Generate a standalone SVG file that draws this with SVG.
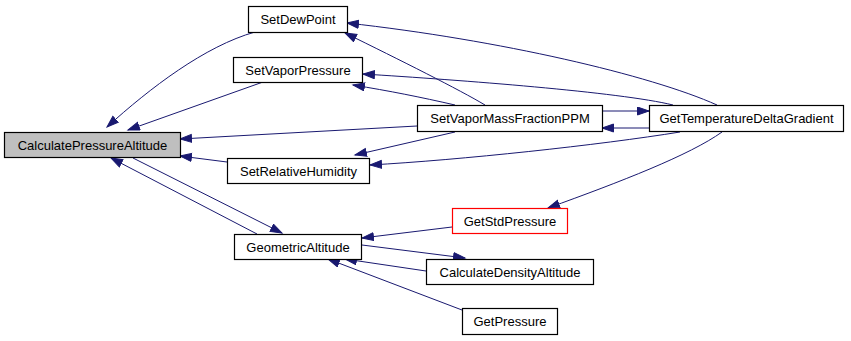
<svg xmlns="http://www.w3.org/2000/svg" width="851" height="341" viewBox="0 0 851 341">
  <style>
    .node rect { fill: #ffffff; stroke: #000000; stroke-width: 1.2; }
    .node.root rect { fill: #bfbfbf; }
    .node.red rect { stroke: #ff0000; }
    .node text { font-family: "Liberation Sans", Arial, sans-serif; font-size: 13px; fill: #000000; text-anchor: middle; }
    .edges path { fill: none; stroke: #191970; stroke-width: 1; marker-end: url(#arrow); }
  </style>
  <defs>
    <marker id="arrow" markerUnits="userSpaceOnUse" markerWidth="14" markerHeight="10" refX="12" refY="4.5" orient="auto">
      <polygon points="0.5,0.5 12,4.5 0.5,8.5" fill="#191970" stroke="#191970" stroke-width="1"/>
    </marker>
  </defs>
  <rect width="851" height="341" fill="#ffffff"/>

  <g class="edges">
    <path d="M255,32 C205,46 150,88 107,127"/>
    <path d="M263,82 L128,130"/>
    <path d="M417,126 L180,139"/>
    <path d="M227,162 L180,156"/>
    <path d="M133,158 L282,233"/>
    <path d="M257,234 L111,158"/>
    <path d="M717,105 C650,75 500,40 347,23"/>
    <path d="M485,105 C460,90 400,60 345,33"/>
    <path d="M673,105 C620,92 460,80 363,74"/>
    <path d="M455,105 C420,97 390,91 353,85"/>
    <path d="M602,111 L649,111"/>
    <path d="M649,128 L602,128"/>
    <path d="M455,132 L355,155"/>
    <path d="M680,132 C600,145 460,160 370,165"/>
    <path d="M722,132 C690,155 620,182 548,208"/>
    <path d="M452,227 L362,238"/>
    <path d="M362,245 L465,258"/>
    <path d="M426,271 L345,259"/>
    <path d="M462,310 L328,259"/>
  </g>

  <g id="CalculatePressureAltitude" class="node root">
    <rect x="4.5" y="132.5" width="176" height="25"/>
    <text x="92.5" y="149.5">CalculatePressureAltitude</text>
  </g>
  <g id="SetDewPoint" class="node">
    <rect x="248.5" y="6.5" width="99" height="26"/>
    <text x="298" y="24">SetDewPoint</text>
  </g>
  <g id="SetVaporPressure" class="node">
    <rect x="233.5" y="57.5" width="129" height="25"/>
    <text x="298" y="74.5">SetVaporPressure</text>
  </g>
  <g id="SetRelativeHumidity" class="node">
    <rect x="227.5" y="158.5" width="142" height="25"/>
    <text x="298.5" y="175.5">SetRelativeHumidity</text>
  </g>
  <g id="GeometricAltitude" class="node">
    <rect x="234.5" y="234.5" width="127" height="25"/>
    <text x="298" y="251.5">GeometricAltitude</text>
  </g>
  <g id="SetVaporMassFractionPPM" class="node">
    <rect x="417.5" y="105.5" width="185" height="26"/>
    <text x="510" y="123">SetVaporMassFractionPPM</text>
  </g>
  <g id="GetTemperatureDeltaGradient" class="node">
    <rect x="649.5" y="105.5" width="194" height="26"/>
    <text x="746.5" y="123">GetTemperatureDeltaGradient</text>
  </g>
  <g id="GetStdPressure" class="node red">
    <rect x="452.5" y="208.5" width="115" height="25"/>
    <text x="510" y="225.5">GetStdPressure</text>
  </g>
  <g id="CalculateDensityAltitude" class="node">
    <rect x="426.5" y="259.5" width="167" height="25"/>
    <text x="510" y="276.5">CalculateDensityAltitude</text>
  </g>
  <g id="GetPressure" class="node">
    <rect x="462.5" y="308.5" width="95" height="26"/>
    <text x="510" y="326">GetPressure</text>
  </g>
</svg>
